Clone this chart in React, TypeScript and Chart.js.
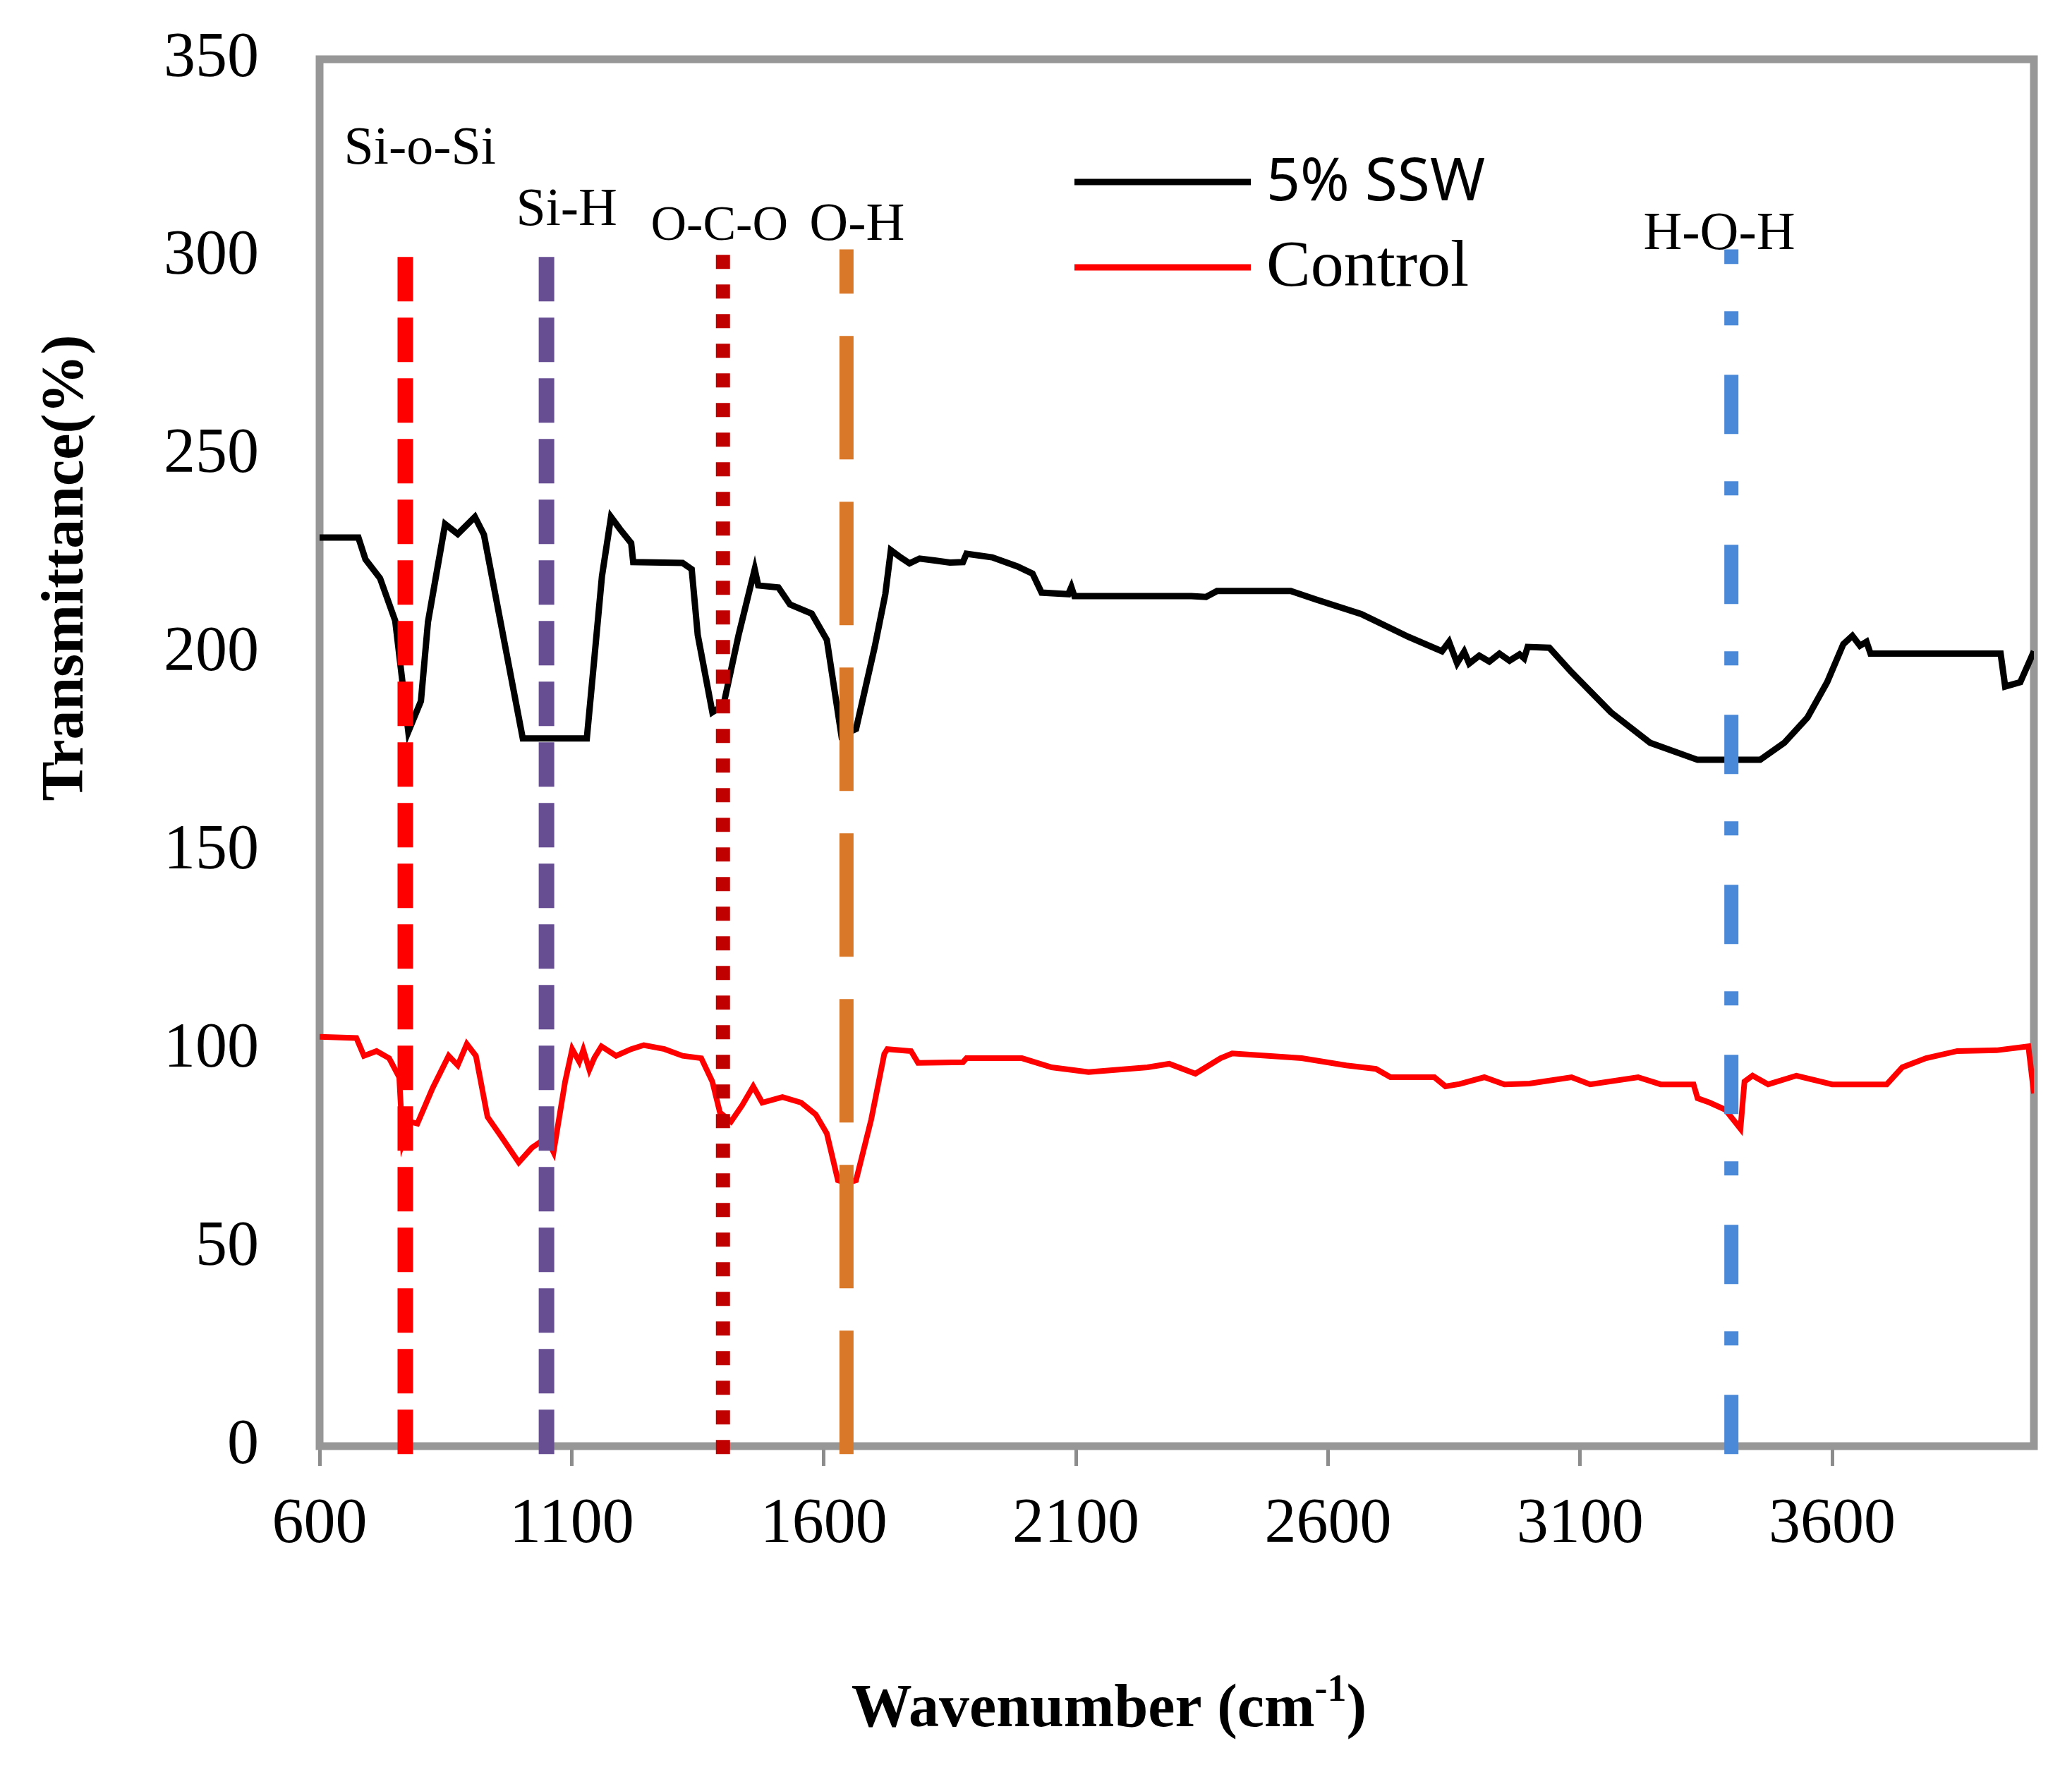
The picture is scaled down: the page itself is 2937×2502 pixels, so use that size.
import React, { useEffect, useRef } from "react";
import { Chart, registerables } from "chart.js";

Chart.register(...registerables);

// ---------- data ----------
const xTickValues = [600, 1100, 1600, 2100, 2600, 3100, 3600];
const yTickValues = [0, 50, 100, 150, 200, 250, 300, 350];

const ssw5Wavenumber = [
  600, 677, 691, 720, 750, 776, 801, 815, 849, 874, 908, 926, 955, 1003, 1130, 1145, 1160, 1178, 1196, 1218,
  1222, 1320, 1338, 1350, 1379, 1401, 1431, 1463, 1470, 1510, 1533, 1576, 1606, 1635, 1664, 1701, 1722, 1733,
  1750, 1770, 1790, 1820, 1850, 1876, 1883, 1934, 1984, 2014, 2032, 2085, 2091, 2097, 2329, 2358, 2380, 2526,
  2578, 2666, 2760, 2826, 2840, 2856, 2870, 2880, 2900, 2920, 2940, 2960, 2980, 2989, 2996, 3039, 3083, 3161,
  3239, 3333, 3457, 3505, 3551, 3590, 3622, 3640, 3655, 3668, 3676, 3934, 3943, 3973, 4000,
];
const ssw5Transmittance = [
  229.3, 229.3, 223.8, 219, 208.3, 180.3, 188, 208, 232.7, 230.2, 234.5, 230, 210.6, 178.6, 178.6, 198.9, 219.5, 234.5, 231.4, 227.9,
  223.1, 222.9, 221.3, 204.7, 185.2, 187, 204.7, 221.3, 217.2, 216.7, 212.4, 210.1, 203.5, 179.3, 181, 201.7, 215, 226.1,
  224.5, 222.8, 224, 223.5, 223, 223.1, 225.2, 224.3, 222, 220.2, 215.4, 215, 216.8, 214.5, 214.5, 214.3, 215.8, 215.8,
  213.6, 210, 204.2, 200.6, 203, 197.6, 200.5, 197.5, 199.5, 198, 200, 198.2, 199.8, 198.8, 201.7, 201.5, 195.3, 185.2,
  177.5, 173.2, 173.2, 177.5, 183.9, 192.8, 202.4, 204.5, 202, 203, 200, 200, 191.7, 192.8, 200.6,
];

const controlWavenumber = [
  600, 673, 688, 713, 738, 758, 765, 779, 794, 824, 856, 874, 892, 910, 933, 962, 995, 1021, 1050, 1064,
  1087, 1101, 1115, 1123, 1135, 1145, 1159, 1188, 1218, 1243, 1284, 1320, 1357, 1379, 1394, 1416, 1438, 1460,
  1478, 1518, 1555, 1584, 1606, 1628, 1646, 1664, 1694, 1720, 1726, 1773, 1787, 1876, 1883, 1993, 2052, 2125,
  2242, 2285, 2337, 2387, 2410, 2548, 2636, 2695, 2724, 2811, 2833, 2861, 2910, 2950, 3000, 3083, 3120, 3215,
  3260, 3325, 3333, 3357, 3388, 3418, 3426, 3442, 3473, 3529, 3600, 3708, 3739, 3786, 3848, 3926, 3989, 4000,
];
const controlTransmittance = [
  103.3, 103, 98.5, 99.7, 97.9, 93.1, 76.6, 81.9, 81.4, 90.3, 98.5, 96.1, 101.5, 98.5, 83.1, 77.8, 71.6, 75.3, 77.8, 74.2,
  92, 100.2, 97, 100, 95, 98, 100.9, 98.5, 100.2, 101.2, 100.2, 98.5, 97.9, 92, 84.2, 81.9, 86, 90.8,
  86.7, 88.1, 86.7, 83.7, 78.9, 67.1, 66.4, 67.1, 82.4, 99, 100.2, 99.7, 96.7, 96.9, 97.9, 97.9, 95.6, 94.4,
  95.6, 96.5, 94, 97.9, 99.1, 97.9, 96.1, 95.2, 93.1, 93.1, 90.8, 91.4, 93.1, 91.3, 91.5, 93.1, 91.3, 93.1,
  91.3, 91.3, 87.8, 86.7, 84.9, 80.1, 92, 93.5, 91.3, 93.5, 91.3, 91.3, 95.6, 97.9, 99.7, 99.9, 100.9, 89,
];

const seriesNames = ["5% SSW", "Control"];

const bandNames = ["Si-o-Si", "Si-H", "O-C-O", "O-H", "H-O-H"];
const bandWavenumbers = [770, 1050, 1400, 1645, 3400];
const bandLineBottom = -2;
const bandLineTop = 302;

// ---------- styles / layout ----------
const bandStyles = [
  { color: "#ff0000", dash: [63, 23], width: 22 },
  { color: "#674e93", dash: [63, 23], width: 22 },
  { color: "#c00000", dash: [20, 22], width: 20 },
  { color: "#d97828", dash: [175, 60], width: 20 },
  { color: "#4a88d8", dash: [84, 70, 20, 67], width: 20 },
];
// label anchor: [wavenumber centre, transmittance baseline, font size]
const bandLabelAnchors = [
  [799, 323.7, 76],
  [1090, 308.2, 76],
  [1393, 304.4, 70],
  [1666, 304.4, 76],
  [3376, 302.1, 76],
];

const W = 2937;
const H = 2502;

const SERIF = "'Liberation Serif', 'Times New Roman', serif";
const SANS = "'Noto Sans', 'Liberation Sans', sans-serif";

const framePlugin = {
  id: "frame",
  beforeDatasetsDraw(chart: any) {
    const { ctx, chartArea } = chart;
    ctx.save();
    ctx.strokeStyle = "#979797";
    ctx.lineWidth = 11;
    ctx.strokeRect(chartArea.left, chartArea.top, chartArea.right - chartArea.left, chartArea.bottom - chartArea.top);
    ctx.restore();
  },
};

const textPlugin = {
  id: "texts",
  afterDraw(chart: any) {
    const { ctx } = chart;
    const xs = chart.scales.x;
    const ys = chart.scales.y;
    ctx.save();
    ctx.fillStyle = "#000";

    // band labels
    ctx.textAlign = "center";
    ctx.textBaseline = "alphabetic";
    bandNames.forEach((name, i) => {
      const [wn, v, fs] = bandLabelAnchors[i];
      ctx.font = `${fs}px ${SERIF}`;
      ctx.fillText(name, xs.getPixelForValue(wn), ys.getPixelForValue(v));
    });

    // legend
    const legendRows = [
      { y: 258, color: "#000000", font: `84px ${SANS}`, base: 284 },
      { y: 379, color: "#ff0000", font: `94px ${SERIF}`, base: 405 },
    ];
    legendRows.forEach((row, i) => {
      ctx.strokeStyle = row.color;
      ctx.lineWidth = 9;
      ctx.beginPath();
      ctx.moveTo(1523, row.y);
      ctx.lineTo(1773, row.y);
      ctx.stroke();
      ctx.font = row.font;
      ctx.textAlign = "left";
      ctx.fillText(seriesNames[i], 1795, row.base);
    });

    // x axis title with superscript
    const mainFont = `bold 86px ${SERIF}`;
    const supFont = `bold 54px ${SERIF}`;
    const part1 = "Wavenumber (cm";
    const sup = "-1";
    const part2 = ")";
    ctx.font = mainFont;
    const w1 = ctx.measureText(part1).width;
    const w3 = ctx.measureText(part2).width;
    ctx.font = supFont;
    const w2 = ctx.measureText(sup).width;
    const total = w1 + w2 + w3;
    const x0 = 1572 - total / 2;
    const base = 2447;
    ctx.textAlign = "left";
    ctx.font = mainFont;
    ctx.fillText(part1, x0, base);
    ctx.font = supFont;
    ctx.fillText(sup, x0 + w1, base - 36);
    ctx.font = mainFont;
    ctx.fillText(part2, x0 + w1 + w2, base);

    // y axis title
    ctx.translate(95, 805);
    ctx.rotate(-Math.PI / 2);
    ctx.font = `bold 84px ${SERIF}`;
    ctx.textAlign = "center";
    ctx.textBaseline = "middle";
    ctx.fillText("Transmittance(%)", 0, 0);
    ctx.restore();
  },
};

export default function App() {
  const canvasRef = useRef<HTMLCanvasElement | null>(null);

  useEffect(() => {
    if (!canvasRef.current) return;

    const bandDatasets = bandNames.map((name, i) => ({
      label: name,
      data: [
        { x: bandWavenumbers[i], y: bandLineBottom },
        { x: bandWavenumbers[i], y: bandLineTop },
      ],
      borderColor: bandStyles[i].color,
      borderWidth: bandStyles[i].width,
      borderDash: bandStyles[i].dash,
      borderCapStyle: "butt",
      pointRadius: 0,
      fill: false,
      clip: false,
      order: 0,
    }));

    const chart = new Chart(canvasRef.current, {
      type: "line",
      data: {
        datasets: [
          ...bandDatasets,
          {
            label: seriesNames[0],
            data: ssw5Wavenumber.map((x, i) => ({ x, y: ssw5Transmittance[i] })),
            borderColor: "#000000",
            borderWidth: 9,
            pointRadius: 0,
            tension: 0,
            fill: false,
            order: 1,
          },
          {
            label: seriesNames[1],
            data: controlWavenumber.map((x, i) => ({ x, y: controlTransmittance[i] })),
            borderColor: "#ff0000",
            borderWidth: 8,
            pointRadius: 0,
            tension: 0,
            fill: false,
            order: 2,
          },
        ] as any,
      },
      options: {
        animation: false,
        responsive: false,
        devicePixelRatio: 1,
        layout: { padding: { left: 0, right: 54, top: 84, bottom: 0 } },
        plugins: {
          legend: { display: false },
          tooltip: { enabled: false },
          title: { display: false },
        },
        scales: {
          x: {
            type: "linear",
            min: 600,
            max: 4000,
            afterBuildTicks: (s: any) => {
              s.ticks = xTickValues.map((v) => ({ value: v }));
            },
            afterFit: (s: any) => {
              s.height = 452;
              s.paddingLeft = 0;
              s.paddingRight = 0;
            },
            border: { display: false },
            grid: {
              drawOnChartArea: false,
              drawTicks: true,
              tickLength: 28,
              color: "#8c8c8c",
              lineWidth: 5,
            },
            ticks: {
              autoSkip: false,
              maxRotation: 0,
              padding: 30,
              color: "#000",
              font: { family: SERIF, size: 90 },
              callback: (v: any) => String(v),
            },
          },
          y: {
            type: "linear",
            min: 0,
            max: 350,
            afterBuildTicks: (s: any) => {
              s.ticks = yTickValues.map((v) => ({ value: v }));
            },
            afterFit: (s: any) => {
              s.width = 453;
              s.paddingTop = 0;
              s.paddingBottom = 0;
            },
            border: { display: false },
            grid: { drawOnChartArea: false, drawTicks: false },
            ticks: {
              autoSkip: false,
              padding: 86,
              color: "#000",
              font: { family: SERIF, size: 90 },
              callback: (v: any) => String(v),
            },
          },
        },
      } as any,
      plugins: [framePlugin, textPlugin],
    });

    return () => chart.destroy();
  }, []);

  return (
    <div style={{ position: "fixed", left: 0, top: 0, width: W, height: H, background: "#fff" }}>
      <canvas ref={canvasRef} width={W} height={H} style={{ display: "block", width: W, height: H }} />
    </div>
  );
}
